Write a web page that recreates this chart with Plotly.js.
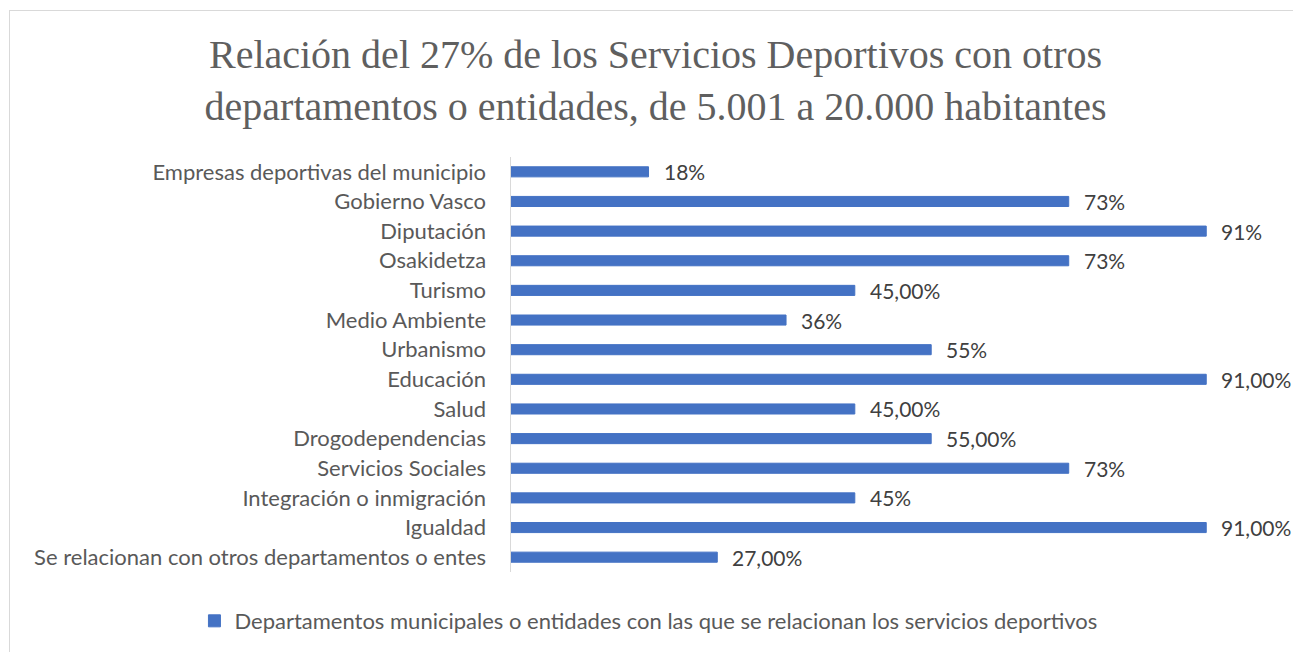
<!DOCTYPE html>
<html>
<head>
<meta charset="utf-8">
<script src="https://cdn.plot.ly/plotly-3.0.1.min.js"></script>
<style>
  html, body { margin: 0; padding: 0; background: #fff; }
  #wrap { position: relative; width: 1293px; height: 652px; overflow: hidden; }
  #chart { width: 1293px; height: 652px; }
  #frame { position: absolute; left: 9px; top: 10px; width: 1400px; height: 800px;
           border: 1.5px solid #d9d9d9; pointer-events: none; box-sizing: border-box; }
</style>
</head>
<body>
<div id="wrap">
  <div id="chart"></div>
  <div id="frame"></div>
</div>
<script>
const categories = [
  "Empresas deportivas del municipio",
  "Gobierno Vasco",
  "Diputación",
  "Osakidetza",
  "Turismo",
  "Medio Ambiente",
  "Urbanismo",
  "Educación",
  "Salud",
  "Drogodependencias",
  "Servicios Sociales",
  "Integración o inmigración",
  "Igualdad",
  "Se relacionan con otros departamentos o entes"
];
const values = [0.18, 0.73, 0.91, 0.73, 0.45, 0.36, 0.55, 0.91, 0.45, 0.55, 0.73, 0.45, 0.91, 0.27];
const valueLabels = ["18%", "73%", "91%", "73%", "45,00%", "36%", "55%", "91,00%", "45,00%", "55,00%", "73%", "45%", "91,00%", "27,00%"];
const seriesName = "Departamentos municipales o entidades con las que se relacionan los servicios deportivos";
const chartTitle = "Relación del 27% de los Servicios Deportivos con otros<br>departamentos o entidades, de 5.001 a 20.000 habitantes";

const sansFont = "Lato, 'Open Sans', sans-serif";

const trace = {
  type: "bar",
  orientation: "h",
  x: values,
  y: categories,
  name: seriesName,
  marker: { color: "#4472C4", line: { color: "#4472C4", width: 1 } },
  hoverinfo: "none"
};

const annotations = values.map((v, i) => ({
  x: v, y: categories[i], xref: "x", yref: "y",
  text: valueLabels[i], showarrow: false,
  xanchor: "left", yanchor: "middle", xshift: 13,
  font: { family: sansFont, size: 21, color: "#404040" }
}));

const layout = {
  width: 1293, height: 652,
  paper_bgcolor: "rgba(0,0,0,0)",
  plot_bgcolor: "rgba(0,0,0,0)",
  margin: { l: 511, r: 18, t: 157, b: 80 },
  title: {
    text: chartTitle,
    font: { family: "'Liberation Serif', 'DejaVu Serif', serif", size: 40, color: "#5f5f5f" },
    x: 0.507, xanchor: "center",
    y: 0.896, yanchor: "top", yref: "container"
  },
  bargap: 0.66,
  showlegend: true,
  legend: {
    orientation: "h",
    x: 0.5015, xanchor: "center", xref: "container",
    y: 0.0475, yanchor: "middle", yref: "container",
    font: { family: sansFont, size: 22, color: "#595959" },
    bgcolor: "rgba(0,0,0,0)"
  },
  xaxis: {
    range: [0, 1],
    showgrid: false, zeroline: false, showticklabels: false, showline: false, ticks: "",
    fixedrange: true
  },
  yaxis: {
    type: "category",
    autorange: "reversed",
    showline: true, linecolor: "#d9d9d9", linewidth: 1.5,
    showgrid: false, zeroline: false, ticks: "",
    ticklabelstandoff: 19,
    tickfont: { family: sansFont, size: 22, color: "#595959" },
    fixedrange: true
  },
  annotations: annotations
};

Plotly.newPlot("chart", [trace], layout, { displayModeBar: false, staticPlot: true });
</script>
</body>
</html>
